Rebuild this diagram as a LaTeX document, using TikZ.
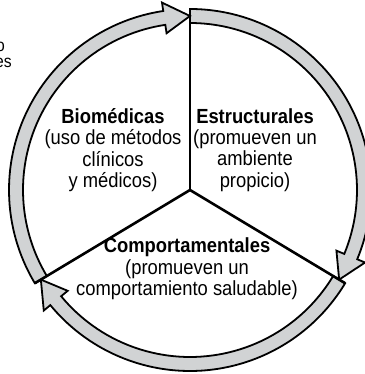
\documentclass[tikz,border=0pt]{standalone}
\usepackage{fontspec}
\setmainfont{Liberation Sans}[FakeStretch=0.9]
\usepackage{tikz}
\usetikzlibrary{positioning,calc}
\definecolor{ringgray}{RGB}{209,211,212}

\begin{document}
\begin{tikzpicture}[x=1bp, y=1bp,
    sector/.style={align=center, inner sep=0pt, font=\fontsize{20.5}{21.5}\selectfont},
    cut/.style={inner sep=0pt, font=\fontsize{17.5}{16}\selectfont},
    ringarrow/.style={fill=ringgray, draw=black, line width=1.8bp, line join=miter},
    spoke/.style={line width=2.6bp, line cap=butt}
]
\useasboundingbox (0,0) rectangle (365,374);
\clip (0,0) rectangle (365,374);

% Cut-off text at the left edge
\node[cut, anchor=base east] (cutone) at (5,323) {o};
\node[cut, anchor=base east] (cuttwo) at (12,307) {es};

% Ring of arrows
\coordinate (hub) at (190,184);
\begin{scope}[shift={(hub)}]
\foreach \a/\b in {90/-31, -31/-149, 211/90}
  \draw[ringarrow] (\a:167) -- (\a:181)
    arc[start angle=\a, end angle={\b+8.5}, radius=181]
    -- ({\b+8.5}:189.5) -- (\b:174) -- ({\b+8.5}:158.5) -- ({\b+8.5}:167)
    arc[start angle={\b+8.5}, end angle=\a, radius=167] -- cycle;
\end{scope}

% Spokes
\coordinate (topend) at ($(hub)+(90:181)$);
\coordinate (rightend) at ($(hub)+(-31:181)$);
\coordinate (leftend) at ($(hub)+(211:181)$);
\draw[spoke] (hub) -- (topend);
\draw[spoke] (hub) -- (rightend);
\draw[spoke] (hub) -- (leftend);

% Sectors
\node[sector] (bio) at (113,224) {\textbf{Biomédicas}\\(uso de métodos\\clínicos\\y médicos)};
\node[sector] (estr) at (255,224) {\textbf{Estructurales}\\(promueven un\\ambiente\\propicio)};
\node[sector] (comp) at (187,105) {\textbf{Comportamentales}\\(promueven un\\comportamiento saludable)};

\end{tikzpicture}
\end{document}
